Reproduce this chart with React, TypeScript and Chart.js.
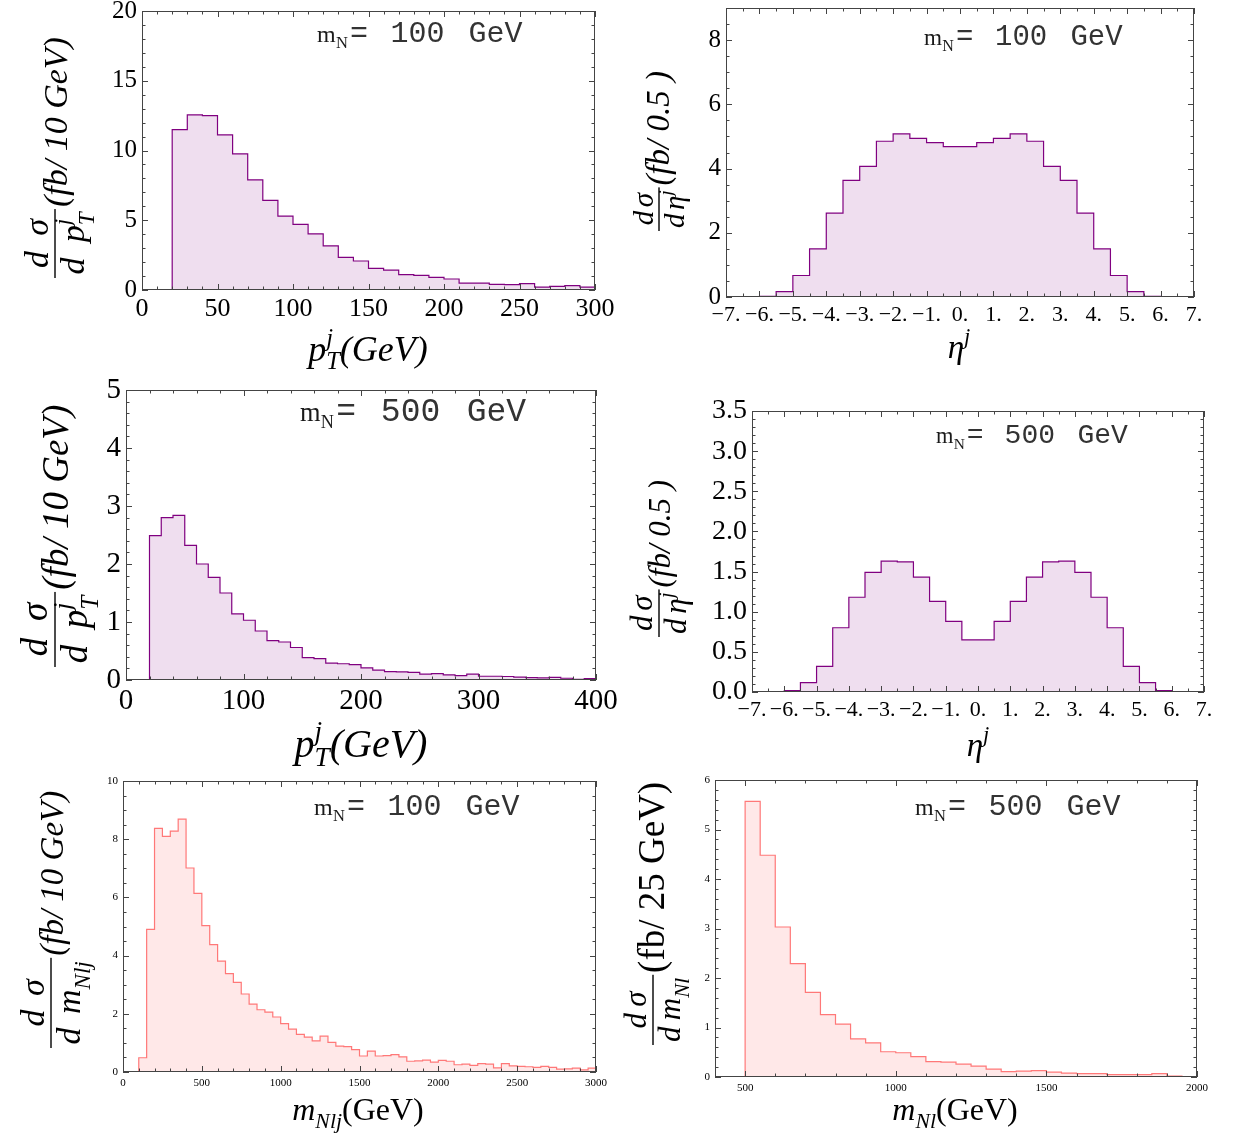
import React, { useEffect, useRef } from "react";
import { Chart, registerables } from "chart.js";
Chart.register(...registerables);

const W = 1234;
const H = 1142;
const SERIF = '"Liberation Serif", "Times New Roman", serif';
const MONO = '"Liberation Mono", "Courier New", monospace';

// ---- data (histogram bin contents) ----
// pT^j, mN = 100 GeV : 10 GeV bins starting at 20 GeV
const ptStart100 = 20;
const ptWidth100 = 10;
const ptValues100 = [11.5, 12.55, 12.5, 11.12, 9.76, 7.9, 6.42, 5.3, 4.7, 4.03, 3.17, 2.34, 2.08, 1.55, 1.43, 1.1, 1.05, 0.91, 0.79, 0.5, 0.5, 0.41, 0.38, 0.45, 0.21, 0.26, 0.31, 0.21];

// eta^j, mN = 100 GeV : 0.5 bins starting at -6
const etaStart100 = -6;
const etaWidth100 = 0.5;
const etaValues100 = [0.02, 0.17, 0.67, 1.5, 2.61, 3.63, 4.07, 4.85, 5.08, 4.94, 4.81, 4.68, 4.68, 4.81, 4.94, 5.08, 4.85, 4.07, 3.63, 2.61, 1.5, 0.67, 0.17, 0.02];

// pT^j, mN = 500 GeV
const ptStart500 = 20;
const ptWidth500 = 10;
const ptValues500 = [2.49, 2.8, 2.84, 2.32, 2.0, 1.77, 1.5, 1.14, 1.03, 0.845, 0.68, 0.655, 0.56, 0.385, 0.37, 0.29, 0.28, 0.265, 0.21, 0.17, 0.145, 0.14, 0.13, 0.1, 0.11, 0.09, 0.075, 0.1, 0.065, 0.065, 0.06, 0.05, 0.04, 0.035, 0.045, 0.03, 0.01, 0.025];

// eta^j, mN = 500 GeV
const etaStart500 = -6;
const etaWidth500 = 0.5;
const etaValues500 = [0.017, 0.116, 0.32, 0.8, 1.18, 1.49, 1.63, 1.62, 1.43, 1.13, 0.88, 0.65, 0.65, 0.88, 1.13, 1.43, 1.62, 1.63, 1.49, 1.18, 0.8, 0.32, 0.116, 0.017];

// m_Nlj, mN = 100 GeV
const mnljStart100 = 100;
const mnljWidth100 = 50;
const mnljValues100 = [0.49, 4.9, 8.37, 8.1, 8.28, 8.69, 7.01, 6.14, 5.03, 4.38, 3.81, 3.38, 3.08, 2.68, 2.33, 2.14, 2.06, 1.89, 1.66, 1.47, 1.29, 1.2, 1.07, 1.23, 1.02, 0.89, 0.87, 0.77, 0.55, 0.72, 0.55, 0.56, 0.6, 0.52, 0.37, 0.38, 0.41, 0.34, 0.4, 0.37, 0.25, 0.27, 0.23, 0.29, 0.27, 0.14, 0.29, 0.21, 0.19, 0.18, 0.16, 0.19, 0.16, 0.1, 0.11, 0.13, 0.07, 0.13];

// m_Nl, mN = 500 GeV
const mnlStart500 = 500;
const mnlWidth500 = 50;
const mnlValues500 = [5.57, 4.48, 3.03, 2.29, 1.71, 1.26, 1.07, 0.77, 0.69, 0.51, 0.49, 0.41, 0.31, 0.3, 0.26, 0.22, 0.16, 0.11, 0.12, 0.13, 0.1, 0.08, 0.07, 0.07, 0.05, 0.05, 0.05, 0.07, 0.02, 0.01];

// ---- text helpers ----
type Run = { t: string; k?: number; it?: boolean; b?: boolean; dy?: number; ov?: boolean; fam?: string; sp?: number };

function runFont(r: Run, size: number) {
  return `${r.it ? "italic " : ""}${r.b ? "bold " : ""}${(size * (r.k ?? 1)).toFixed(1)}px ${r.fam ?? SERIF}`;
}
function layoutRuns(ctx: CanvasRenderingContext2D, runs: Run[], size: number) {
  let x = 0, ps = 0, pw = 0;
  const items: { r: Run; px: number }[] = [];
  for (const r of runs) {
    if (r.sp !== undefined) {
      x += r.sp * size;
      continue;
    }
    ctx.font = runFont(r, size);
    const w = ctx.measureText(r.t).width;
    if (r.ov) {
      items.push({ r, px: ps });
      x = ps + Math.max(pw, w);
    } else {
      items.push({ r, px: x });
      ps = x; pw = w; x += w;
    }
  }
  return { items, width: x };
}
function drawRuns(ctx: CanvasRenderingContext2D, runs: Run[], size: number, x0: number, base: number) {
  const { items } = layoutRuns(ctx, runs, size);
  for (const it of items) {
    ctx.font = runFont(it.r, size);
    ctx.fillText(it.r.t, x0 + it.px, base + (it.r.dy ?? 0) * size);
  }
}
function runsWidth(ctx: CanvasRenderingContext2D, runs: Run[], size: number) {
  return layoutRuns(ctx, runs, size).width;
}

type YTitle = { x: number; y: number; fs: number; gap: number; ss: number; den: Run[]; suffix: Run[] };
function drawYTitle(ctx: CanvasRenderingContext2D, t: YTitle) {
  ctx.save();
  ctx.translate(t.x, t.y);
  ctx.rotate(-Math.PI / 2);
  const num: Run[] = [{ t: "d", it: true }, { t: "", sp: t.gap }, { t: "σ", it: true }];
  const den: Run[] = [{ t: "d", it: true }, { t: "", sp: t.gap }, ...t.den];
  const nw = runsWidth(ctx, num, t.fs);
  const dw = runsWidth(ctx, den, t.fs);
  const bl = Math.max(nw, dw) + t.fs * 0.2;
  ctx.fillRect(0, -0.7, bl, 1.4);
  drawRuns(ctx, num, t.fs, (bl - nw) / 2, -t.fs * 0.22);
  drawRuns(ctx, den, t.fs, (bl - dw) / 2, t.fs * 0.86);
  drawRuns(ctx, t.suffix, t.ss, bl + t.fs * 0.06, t.fs * 0.36);
  ctx.restore();
}
type XTitle = { cx: number; base: number; size: number; runs: Run[] };
function drawXTitle(ctx: CanvasRenderingContext2D, t: XTitle) {
  const w = runsWidth(ctx, t.runs, t.size);
  drawRuns(ctx, t.runs, t.size, t.cx - w / 2, t.base);
}
function drawMN(ctx: CanvasRenderingContext2D, x0: number, base: number, s: number, val: string) {
  ctx.fillStyle = "#1a1a1a";
  ctx.font = `${(0.8 * s).toFixed(1)}px ${SERIF}`;
  ctx.fillText("m", x0, base);
  ctx.font = `${(0.55 * s).toFixed(1)}px ${SERIF}`;
  ctx.fillText("N", x0 + 0.63 * s, base + 0.2 * s);
  ctx.fillStyle = "#333";
  ctx.font = `${s}px ${MONO}`;
  ctx.fillText("=", x0 + 1.1 * s, base);
  ctx.fillText(val, x0 + 2.45 * s, base);
  ctx.fillText("GeV", x0 + 5.05 * s, base);
}

const denPT: Run[] = [{ t: "p", it: true }, { t: "T", it: true, k: 0.68, dy: 0.3 }, { t: "j", it: true, k: 0.68, dy: -0.42, ov: true }];
const denEta: Run[] = [{ t: "η", it: true }, { t: "j", it: true, k: 0.68, dy: -0.42 }];
const denMNlj: Run[] = [{ t: "m", it: true }, { t: "Nlj", it: true, k: 0.68, dy: 0.3 }];
const denMNl: Run[] = [{ t: "m", it: true }, { t: "Nl", it: true, k: 0.68, dy: 0.3 }];

const xPT: Run[] = [{ t: "p", it: true }, { t: "T", it: true, k: 0.68, dy: 0.22 }, { t: "j", it: true, k: 0.68, dy: -0.42, ov: true }, { t: "(GeV)", it: true }];
const xEta: Run[] = [{ t: "η", it: true }, { t: "j", it: true, k: 0.68, dy: -0.42 }];
const xMNlj: Run[] = [{ t: "m", it: true }, { t: "Nlj", it: true, k: 0.68, dy: 0.25 }, { t: "(GeV)" }];
const xMNl: Run[] = [{ t: "m", it: true }, { t: "Nl", it: true, k: 0.68, dy: 0.25 }, { t: "(GeV)" }];

const PURPLE = "rgb(128,0,128)";
const PURPLE_FILL = "rgba(128,0,128,0.13)";
const PINK = "rgb(255,120,120)";
const PINK_FILL = "rgba(255,110,110,0.16)";

const intFmt = (v: number) => String(Math.round(v));
const etaFmt = (v: number) => `${v < 0 ? "\u2212" : ""}${Math.abs(Math.round(v))}.`;
const oneDec = (v: number) => v.toFixed(1);

type Axis = { min: number; max: number; step: number; major: number; font: number; pad: number; fmt: (v: number) => string };
type Panel = {
  area: [number, number, number, number];
  start: number; width: number; values: number[];
  stroke: string; fill: string;
  x: Axis; y: Axis;
  mn: { x: number; base: number; s: number; val: string };
  ytitle: YTitle; xtitle: XTitle;
};

const PANELS: Panel[] = [
  {
    area: [142, 11, 595, 290], start: ptStart100, width: ptWidth100, values: ptValues100, stroke: PURPLE, fill: PURPLE_FILL,
    x: { min: 0, max: 300, step: 10, major: 50, font: 26, pad: 4, fmt: intFmt },
    y: { min: 0, max: 20, step: 1, major: 5, font: 25, pad: 5, fmt: intFmt },
    mn: { x: 317, base: 42, s: 30, val: "100" },
    ytitle: { x: 55, y: 278, fs: 34, gap: 0.45, ss: 34, den: denPT, suffix: [{ t: "(fb/ 10 GeV)", it: true }] },
    xtitle: { cx: 368, base: 361, size: 36, runs: xPT },
  },
  {
    area: [726, 8, 1194, 297], start: etaStart100, width: etaWidth100, values: etaValues100, stroke: PURPLE, fill: PURPLE_FILL,
    x: { min: -7, max: 7, step: 0.5, major: 1, font: 22, pad: 5, fmt: etaFmt },
    y: { min: 0, max: 9, step: 0.5, major: 2, font: 25, pad: 5, fmt: intFmt },
    mn: { x: 924, base: 45, s: 29, val: "100" },
    ytitle: { x: 659, y: 231, fs: 29, gap: 0.12, ss: 33, den: denEta, suffix: [{ t: "(fb/ 0.5 )", it: true }] },
    xtitle: { cx: 959, base: 358, size: 33, runs: xEta },
  },
  {
    area: [126, 390, 596, 680], start: ptStart500, width: ptWidth500, values: ptValues500, stroke: PURPLE, fill: PURPLE_FILL,
    x: { min: 0, max: 400, step: 20, major: 100, font: 29, pad: 4, fmt: intFmt },
    y: { min: 0, max: 5, step: 0.2, major: 1, font: 29, pad: 5, fmt: intFmt },
    mn: { x: 300, base: 421, s: 33, val: "500" },
    ytitle: { x: 55, y: 667, fs: 37, gap: 0.45, ss: 37, den: denPT, suffix: [{ t: "(fb/ 10 GeV)", it: true }] },
    xtitle: { cx: 361, base: 757, size: 40, runs: xPT },
  },
  {
    area: [752, 411, 1204, 692], start: etaStart500, width: etaWidth500, values: etaValues500, stroke: PURPLE, fill: PURPLE_FILL,
    x: { min: -7, max: 7, step: 0.5, major: 1, font: 22, pad: 5, fmt: etaFmt },
    y: { min: 0, max: 3.5, step: 0.1, major: 0.5, font: 28, pad: 5, fmt: oneDec },
    mn: { x: 936, base: 443, s: 28, val: "500" },
    ytitle: { x: 659, y: 637, fs: 31, gap: 0.15, ss: 31, den: denEta, suffix: [{ t: "(fb/ 0.5 )", it: true }] },
    xtitle: { cx: 978, base: 756, size: 33, runs: xEta },
  },
  {
    area: [123, 781, 596, 1072], start: mnljStart100, width: mnljWidth100, values: mnljValues100, stroke: PINK, fill: PINK_FILL,
    x: { min: 0, max: 3000, step: 100, major: 500, font: 11, pad: 5, fmt: intFmt },
    y: { min: 0, max: 10, step: 0.5, major: 2, font: 11, pad: 5, fmt: intFmt },
    mn: { x: 314, base: 815, s: 30, val: "100" },
    ytitle: { x: 51, y: 1048, fs: 34, gap: 0.4, ss: 33, den: denMNlj, suffix: [{ t: "(fb/ 10 GeV)", it: true }] },
    xtitle: { cx: 358, base: 1120, size: 32, runs: xMNlj },
  },
  {
    area: [715, 780, 1197, 1077], start: mnlStart500, width: mnlWidth500, values: mnlValues500, stroke: PINK, fill: PINK_FILL,
    x: { min: 400, max: 2000, step: 100, major: 500, font: 11, pad: 5, fmt: intFmt },
    y: { min: 0, max: 6, step: 0.2, major: 1, font: 11, pad: 5, fmt: intFmt },
    mn: { x: 915, base: 815, s: 30, val: "500" },
    ytitle: { x: 653, y: 1045, fs: 31, gap: 0.2, ss: 37, den: denMNl, suffix: [{ t: "(fb/ 25 GeV)" }] },
    xtitle: { cx: 955, base: 1120, size: 32, runs: xMNl },
  },
];

function stepPoints(start: number, width: number, values: number[]) {
  const pts = [{ x: start, y: 0 }];
  values.forEach((v, i) => pts.push({ x: start + i * width, y: v }));
  const end = start + values.length * width;
  pts.push({ x: end, y: values[values.length - 1] });
  pts.push({ x: end, y: 0 });
  return pts;
}

const isMajor = (v: number, major: number) => Math.abs(v / major - Math.round(v / major)) < 1e-6;

function scaleOpts(a: Axis, isX: boolean, L: number, B: number) {
  return {
    type: "linear",
    min: a.min,
    max: a.max,
    grid: { display: false, drawTicks: false },
    border: { display: false },
    ticks: {
      stepSize: a.step,
      autoSkip: false,
      maxTicksLimit: 1000,
      maxRotation: 0,
      minRotation: 0,
      padding: a.pad,
      color: "#000",
      font: { family: SERIF, size: a.font },
      callback: (v: any) => (isMajor(Number(v), a.major) ? a.fmt(Number(v)) : ""),
    },
    afterFit: (s: any) => {
      if (isX) s.height = H - B;
      else s.width = L;
      s.paddingTop = 0; s.paddingBottom = 0; s.paddingLeft = 0; s.paddingRight = 0;
    },
  };
}

function makeChart(canvas: HTMLCanvasElement, p: Panel) {
  const [L, T, R, B] = p.area;
  const deco = {
    id: "deco",
    afterDraw(chart: any) {
      const ctx: CanvasRenderingContext2D = chart.ctx;
      const { left, top, right, bottom } = chart.chartArea;
      ctx.save();
      ctx.strokeStyle = "#444";
      ctx.lineWidth = 1;
      ctx.strokeRect(Math.round(left) + 0.5, Math.round(top) + 0.5, Math.round(right - left) - 1, Math.round(bottom - top) - 1);
      ctx.beginPath();
      const xs = chart.scales.x;
      for (const t of xs.ticks) {
        const px = Math.round(xs.getPixelForValue(t.value)) + 0.5;
        const len = isMajor(t.value, p.x.major) ? 6 : 3.5;
        ctx.moveTo(px, bottom); ctx.lineTo(px, bottom - len);
        ctx.moveTo(px, top); ctx.lineTo(px, top + len);
      }
      const ys = chart.scales.y;
      for (const t of ys.ticks) {
        const py = Math.round(ys.getPixelForValue(t.value)) + 0.5;
        const len = isMajor(t.value, p.y.major) ? 6 : 3.5;
        ctx.moveTo(left, py); ctx.lineTo(left + len, py);
        ctx.moveTo(right, py); ctx.lineTo(right - len, py);
      }
      ctx.stroke();
      ctx.textAlign = "left";
      ctx.textBaseline = "alphabetic";
      drawMN(ctx, p.mn.x, p.mn.base, p.mn.s, p.mn.val);
      ctx.fillStyle = "#000";
      drawYTitle(ctx, p.ytitle);
      drawXTitle(ctx, p.xtitle);
      ctx.restore();
    },
  };
  return new Chart(canvas, {
    type: "line",
    data: {
      datasets: [
        {
          data: stepPoints(p.start, p.width, p.values),
          stepped: "before",
          fill: "origin",
          borderColor: p.stroke,
          backgroundColor: p.fill,
          borderWidth: 1.2,
          pointRadius: 0,
          tension: 0,
        },
      ],
    },
    options: {
      responsive: false,
      animation: false,
      devicePixelRatio: 1,
      events: [],
      layout: { padding: { left: 0, top: T, right: W - R, bottom: 0 } },
      plugins: { legend: { display: false }, tooltip: { enabled: false } },
      scales: {
        x: scaleOpts(p.x, true, L, B),
        y: scaleOpts(p.y, false, L, B),
      },
    } as any,
    plugins: [deco],
  } as any);
}

export default function App() {
  const refs = useRef<(HTMLCanvasElement | null)[]>([]);
  useEffect(() => {
    const charts = PANELS.map((p, i) => makeChart(refs.current[i] as HTMLCanvasElement, p));
    return () => charts.forEach((c) => c.destroy());
  }, []);
  return (
    <div style={{ position: "absolute", left: 0, top: 0, width: W, height: H, background: "#fff" }}>
      {PANELS.map((_, i) => (
        <canvas
          key={i}
          ref={(el) => {
            refs.current[i] = el;
          }}
          width={W}
          height={H}
          style={{ position: "absolute", left: 0, top: 0, width: W, height: H }}
        />
      ))}
    </div>
  );
}
